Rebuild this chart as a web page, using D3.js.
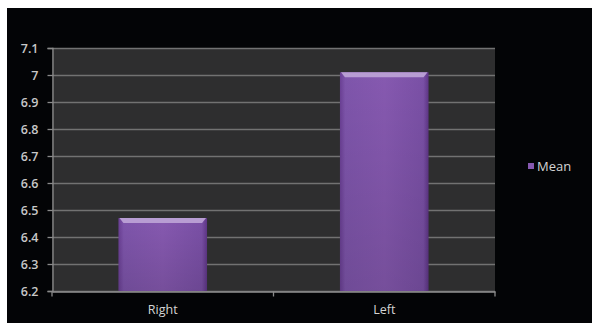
<!DOCTYPE html>
<html>
<head>
<meta charset="utf-8">
<script src="https://cdn.jsdelivr.net/npm/d3@7"></script>
<style>
  body { margin: 0; background: #fff; }
  text { font-family: "Open Sans", "Liberation Sans", sans-serif; }
</style>
</head>
<body>
<svg id="chart" width="592" height="323"></svg>
<script>
const categories = ['Right', 'Left'];
const meanValues = [6.47, 7.01];
const yTicks = [6.2, 6.3, 6.4, 6.5, 6.6, 6.7, 6.8, 6.9, 7, 7.1];
const seriesName = 'Mean';

const width = 592;
const height = 323;
const margin = { top: 48, right: 97, bottom: 32, left: 52 };

const svg = d3.select('#chart');

// black chart background, white strip at top/left
svg.append('rect')
  .attr('x', 7).attr('y', 8)
  .attr('width', width - 7).attr('height', height - 8)
  .attr('fill', '#030406');

const x = d3.scaleBand()
  .domain(categories)
  .range([margin.left, width - margin.right])
  .paddingInner(0.6)
  .paddingOuter(0.3);

const y = d3.scaleLinear()
  .domain([6.2, 7.1])
  .range([height - margin.bottom, margin.top]);

const defs = svg.append('defs');
const grad = defs.append('linearGradient')
  .attr('id', 'barGrad')
  .attr('x1', 0).attr('x2', 1).attr('y1', 0).attr('y2', 0);
grad.append('stop').attr('offset', '0%').attr('stop-color', '#6a3f94');
grad.append('stop').attr('offset', '6%').attr('stop-color', '#7e55ab');
grad.append('stop').attr('offset', '50%').attr('stop-color', '#8659b0');
grad.append('stop').attr('offset', '94%').attr('stop-color', '#7a50a6');
grad.append('stop').attr('offset', '100%').attr('stop-color', '#5e3586');

const vGrad = defs.append('linearGradient')
  .attr('id', 'barShade')
  .attr('x1', 0).attr('x2', 0).attr('y1', 0).attr('y2', 1);
vGrad.append('stop').attr('offset', '0%').attr('stop-color', '#000').attr('stop-opacity', 0);
vGrad.append('stop').attr('offset', '100%').attr('stop-color', '#000').attr('stop-opacity', 0.12);

// plot area
svg.append('rect')
  .attr('x', margin.left)
  .attr('y', margin.top)
  .attr('width', width - margin.right - margin.left)
  .attr('height', height - margin.bottom - margin.top)
  .attr('fill', '#2e2e2f');

// gridlines
svg.append('g')
  .selectAll('line')
  .data(yTicks)
  .enter().append('line')
  .attr('x1', margin.left)
  .attr('x2', width - margin.right)
  .attr('y1', (d) => Math.round(y(d)) + 0.5)
  .attr('y2', (d) => Math.round(y(d)) + 0.5)
  .attr('stroke', '#727272')
  .attr('stroke-width', 1.4);

// bars
const bars = svg.append('g')
  .selectAll('g')
  .data(categories.map((c, i) => ({ key: c, value: meanValues[i] })))
  .enter().append('g');

bars.append('rect')
  .attr('x', (d) => x(d.key))
  .attr('y', (d) => y(d.value))
  .attr('width', x.bandwidth())
  .attr('height', (d) => y(6.2) - y(d.value))
  .attr('fill', 'url(#barGrad)');

bars.append('rect')
  .attr('x', (d) => x(d.key))
  .attr('y', (d) => y(d.value))
  .attr('width', x.bandwidth())
  .attr('height', (d) => y(6.2) - y(d.value))
  .attr('fill', 'url(#barShade)');

// bevel highlight on top
bars.append('path')
  .attr('d', (d) => {
    const x0 = x(d.key);
    const x1 = x0 + x.bandwidth();
    const y0 = y(d.value);
    return `M${x0 + 1},${y0}L${x1 - 1},${y0}L${x1 - 5},${y0 + 5}L${x0 + 5},${y0 + 5}Z`;
  })
  .attr('fill', '#b89dd3');

// y axis
const yAxis = d3.axisLeft(y)
  .tickValues(yTicks)
  .tickSize(5)
  .tickFormat((d) => d3.format('~g')(d));

const yG = svg.append('g')
  .attr('transform', `translate(${margin.left + 0.5},0)`)
  .call(yAxis);
yG.select('.domain').attr('stroke', '#8a8a8a').attr('stroke-width', 1.3);
yG.selectAll('.tick line').attr('stroke', '#8a8a8a').attr('stroke-width', 1.3);
yG.selectAll('.tick text')
  .attr('x', -14)
  .attr('fill', '#c8c8c8')
  .attr('font-size', 12.5)
  .attr('font-weight', 600)
  .style('font-family', '"Open Sans", sans-serif');

// x axis
const xAxis = d3.axisBottom(x).tickSize(0).tickPadding(14);
const xG = svg.append('g')
  .attr('transform', `translate(0,${height - margin.bottom + 0.5})`)
  .call(xAxis);
xG.select('.domain').attr('stroke', '#8a8a8a').attr('stroke-width', 1.3);
xG.selectAll('.tick text')
  .attr('fill', '#d4d4d4')
  .attr('font-size', 12.5)
  .style('font-family', '"Open Sans", sans-serif');

// x ticks at category boundaries
const bounds = [margin.left, (x('Right') + x.bandwidth() + x('Left')) / 2, width - margin.right];
xG.append('g')
  .selectAll('line')
  .data(bounds)
  .enter().append('line')
  .attr('x1', (d) => d).attr('x2', (d) => d)
  .attr('y1', 0).attr('y2', 5)
  .attr('stroke', '#8a8a8a')
  .attr('stroke-width', 1.3);

// legend
const legend = svg.append('g')
  .attr('transform', 'translate(528,163)');
legend.append('rect')
  .attr('width', 6).attr('height', 6)
  .attr('fill', '#8659b0');
legend.append('text')
  .attr('x', 9).attr('y', 8)
  .attr('fill', '#d4d4d4')
  .attr('font-size', 13)
  .text(seriesName);
</script>
</body>
</html>
